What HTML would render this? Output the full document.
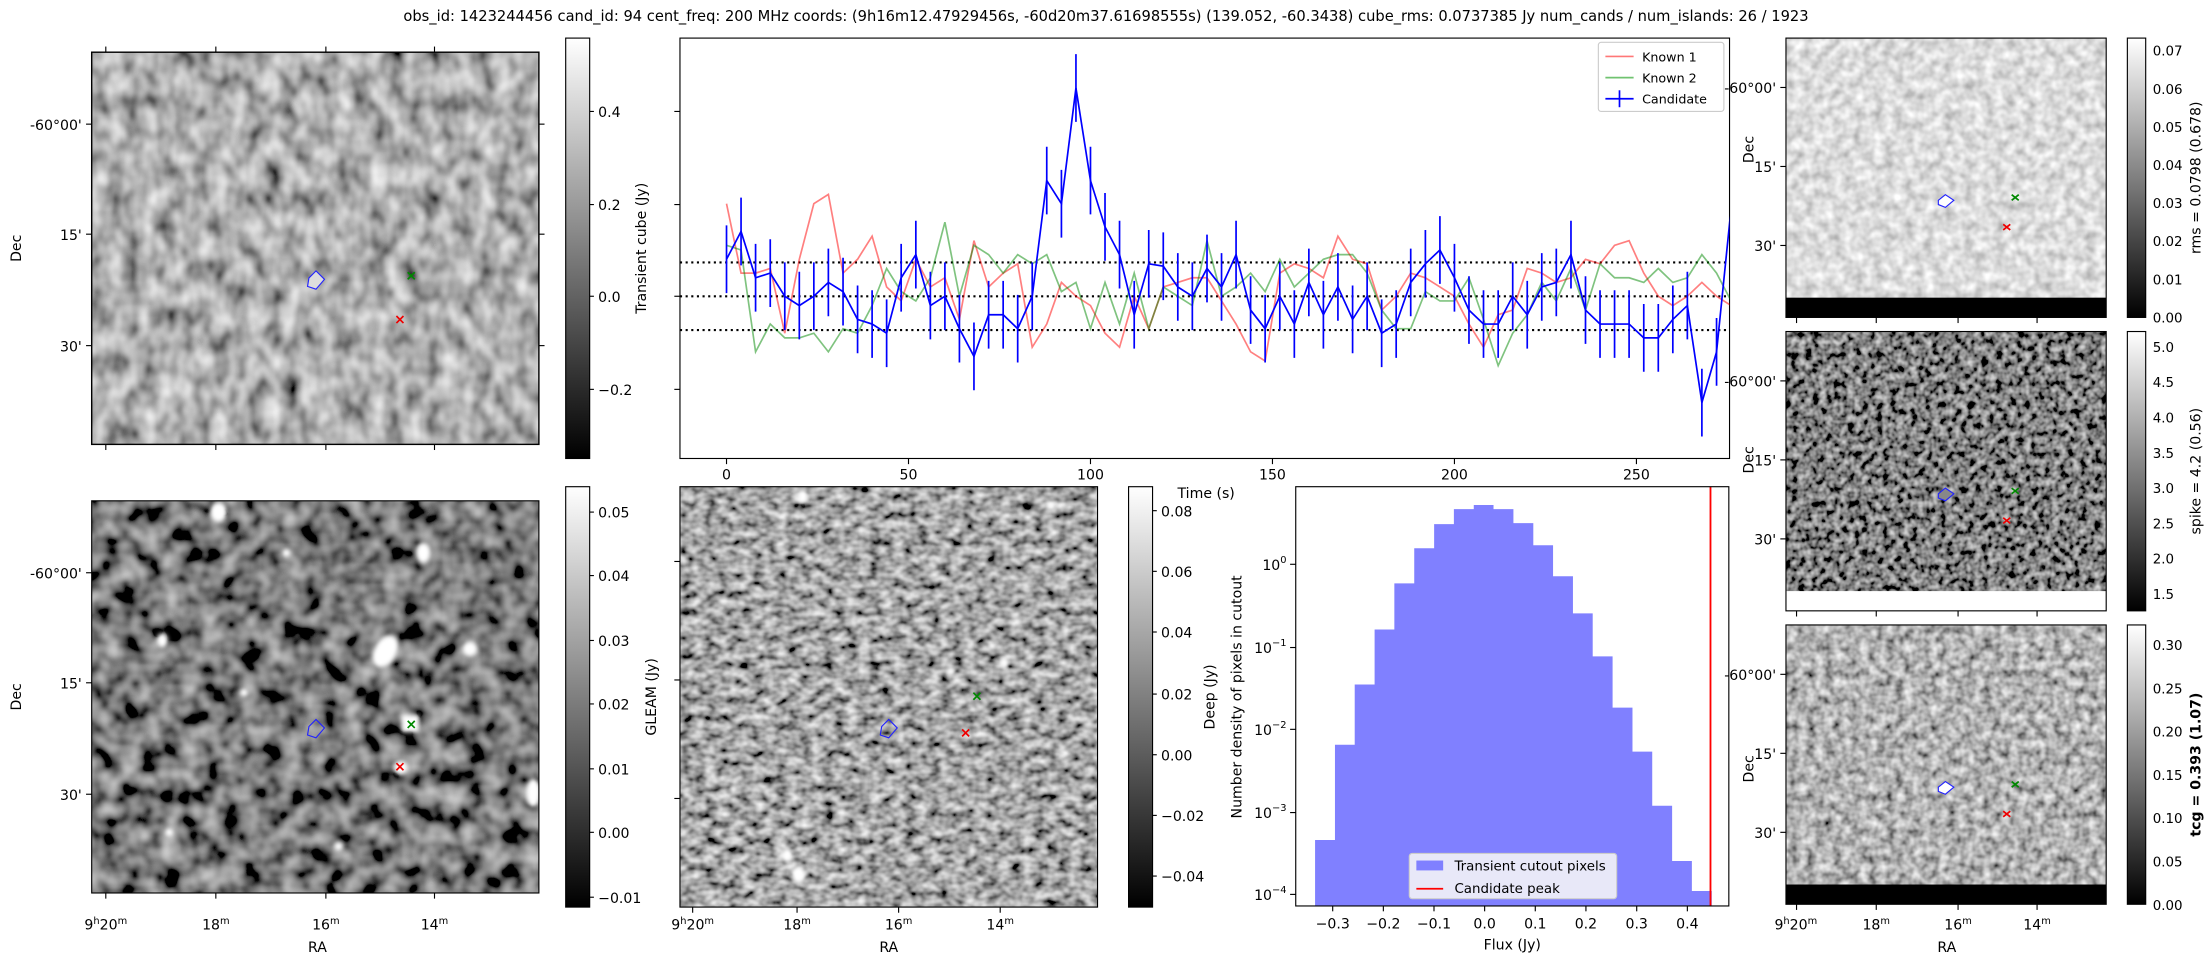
<!DOCTYPE html>
<html><head><meta charset="utf-8"><style>
html,body{margin:0;padding:0;background:#fff;}
svg{display:block;font-family:"DejaVu Sans","Liberation Sans",sans-serif;}
</style></head><body>
<svg width="2212" height="960" viewBox="0 0 1568 680.5" xmlns="http://www.w3.org/2000/svg">
<defs>
<linearGradient id="cb" x1="0" y1="1" x2="0" y2="0"><stop offset="0" stop-color="#000"/><stop offset="1" stop-color="#fff"/></linearGradient>
<filter id="f1" filterUnits="userSpaceOnUse" x="65" y="37" width="317" height="278"><feTurbulence type="fractalNoise" baseFrequency="0.08 0.06" numOctaves="2" seed="3"/><feColorMatrix type="matrix" values="1 0 0 0 0 1 0 0 0 0 1 0 0 0 0 0 0 0 0 1"/><feComponentTransfer><feFuncR type="linear" slope="1.1" intercept="-0.12"/><feFuncG type="linear" slope="1.1" intercept="-0.12"/><feFuncB type="linear" slope="1.1" intercept="-0.12"/></feComponentTransfer></filter>
<filter id="f4" filterUnits="userSpaceOnUse" x="65" y="355" width="317" height="278"><feTurbulence type="fractalNoise" baseFrequency="0.07" numOctaves="2" seed="7"/><feColorMatrix type="matrix" values="1 0 0 0 0 1 0 0 0 0 1 0 0 0 0 0 0 0 0 1"/><feComponentTransfer><feFuncR type="linear" slope="1.0" intercept="-0.3"/><feFuncG type="linear" slope="1.0" intercept="-0.3"/><feFuncB type="linear" slope="1.0" intercept="-0.3"/></feComponentTransfer></filter>
<filter id="f5" filterUnits="userSpaceOnUse" x="482" y="345" width="296" height="298"><feTurbulence type="fractalNoise" baseFrequency="0.12 0.16" numOctaves="2" seed="11"/><feColorMatrix type="matrix" values="1 0 0 0 0 1 0 0 0 0 1 0 0 0 0 0 0 0 0 1"/><feComponentTransfer><feFuncR type="linear" slope="1.3" intercept="-0.27"/><feFuncG type="linear" slope="1.3" intercept="-0.27"/><feFuncB type="linear" slope="1.3" intercept="-0.27"/></feComponentTransfer></filter>
<filter id="r1" filterUnits="userSpaceOnUse" x="1266" y="27" width="227" height="198"><feTurbulence type="fractalNoise" baseFrequency="0.14" numOctaves="2" seed="5"/><feColorMatrix type="matrix" values="1 0 0 0 0 1 0 0 0 0 1 0 0 0 0 0 0 0 0 1"/><feComponentTransfer><feFuncR type="linear" slope="0.8" intercept="0.32"/><feFuncG type="linear" slope="0.8" intercept="0.32"/><feFuncB type="linear" slope="0.8" intercept="0.32"/></feComponentTransfer></filter>
<filter id="r2" filterUnits="userSpaceOnUse" x="1266" y="235" width="227" height="198"><feTurbulence type="fractalNoise" baseFrequency="0.2" numOctaves="2" seed="9"/><feColorMatrix type="matrix" values="1 0 0 0 0 1 0 0 0 0 1 0 0 0 0 0 0 0 0 1"/><feComponentTransfer><feFuncR type="linear" slope="1.2" intercept="-0.38"/><feFuncG type="linear" slope="1.2" intercept="-0.38"/><feFuncB type="linear" slope="1.2" intercept="-0.38"/></feComponentTransfer></filter>
<filter id="r3" filterUnits="userSpaceOnUse" x="1266" y="443" width="227" height="198"><feTurbulence type="fractalNoise" baseFrequency="0.16" numOctaves="2" seed="13"/><feColorMatrix type="matrix" values="1 0 0 0 0 1 0 0 0 0 1 0 0 0 0 0 0 0 0 1"/><feComponentTransfer><feFuncR type="linear" slope="1.2" intercept="-0.15"/><feFuncG type="linear" slope="1.2" intercept="-0.15"/><feFuncB type="linear" slope="1.2" intercept="-0.15"/></feComponentTransfer></filter>
<filter id="bl"><feGaussianBlur stdDeviation="1.5"/></filter>
<clipPath id="c4"><rect x="65" y="355" width="317" height="278"/></clipPath>
<clipPath id="c5"><rect x="482" y="345" width="296" height="298"/></clipPath>
<clipPath id="clc"><rect x="482" y="27" width="744" height="298"/></clipPath>
</defs>

<text x="784" y="15" font-size="10.4" text-anchor="middle">obs_id: 1423244456 cand_id: 94 cent_freq: 200 MHz coords: (9h16m12.47929456s, -60d20m37.61698555s) (139.052, -60.3438) cube_rms: 0.0737385 Jy num_cands / num_islands: 26 / 1923</text>

<!-- P1 -->
<rect x="65" y="37" width="317" height="278" fill="#777" filter="url(#f1)"/>
<rect x="65" y="37" width="317" height="278" fill="none" stroke="#000"/>
<g stroke="#000" stroke-width="0.8"><line x1="75" y1="37" x2="75" y2="33"/><line x1="153" y1="37" x2="153" y2="33"/><line x1="231" y1="37" x2="231" y2="33"/><line x1="308" y1="37" x2="308" y2="33"/>
<line x1="75" y1="315" x2="75" y2="319"/><line x1="153" y1="315" x2="153" y2="319"/><line x1="231" y1="315" x2="231" y2="319"/><line x1="308" y1="315" x2="308" y2="319"/>
<line x1="65" y1="88" x2="61" y2="88"/><line x1="65" y1="166" x2="61" y2="166"/><line x1="65" y1="245" x2="61" y2="245"/>
<line x1="382" y1="88" x2="386" y2="88"/><line x1="382" y1="166" x2="386" y2="166"/><line x1="382" y1="245" x2="386" y2="245"/></g>
<g font-size="10" text-anchor="end"><text x="58" y="92">-60°00'</text><text x="58" y="170">15'</text><text x="58" y="249">30'</text></g>
<text transform="translate(15,176) rotate(-90)" font-size="10" text-anchor="middle">Dec</text>
<path d="M219,197 L224,192 L230,198 L224,205 L218,203 Z" fill="#ddd" stroke="#22f" stroke-width="0.8"/>
<g stroke-width="1.2"><path d="M289,193 l5,5 M294,193 l-5,5" stroke="#080"/><path d="M281,224 l5,5 M286,224 l-5,5" stroke="#e00"/></g>
<rect x="401" y="27" width="17" height="298" fill="url(#cb)" stroke="#000" stroke-width="0.8"/>
<g stroke="#000" stroke-width="0.8"><line x1="418" y1="79" x2="421" y2="79"/><line x1="418" y1="145" x2="421" y2="145"/><line x1="418" y1="210" x2="421" y2="210"/><line x1="418" y1="276" x2="421" y2="276"/></g>
<g font-size="10"><text x="424" y="83">0.4</text><text x="424" y="149">0.2</text><text x="424" y="214">0.0</text><text x="424" y="280">−0.2</text></g>
<text transform="translate(458,176) rotate(-90)" font-size="10" text-anchor="middle">Transient cube (Jy)</text>

<!-- Lightcurve -->
<rect x="482" y="27" width="744" height="298" fill="none" stroke="#000" stroke-width="0.8"/>
<g stroke="#000" stroke-width="1.5" stroke-dasharray="1.5,2.5"><line x1="482" y1="186" x2="1226" y2="186"/><line x1="482" y1="210" x2="1226" y2="210"/><line x1="482" y1="234" x2="1226" y2="234"/></g>
<g id="lc" clip-path="url(#clc)"></g>
<g stroke="#000" stroke-width="0.8"><line x1="482" y1="79" x2="478" y2="79"/><line x1="482" y1="145" x2="478" y2="145"/><line x1="482" y1="210" x2="478" y2="210"/><line x1="482" y1="276" x2="478" y2="276"/>
<line x1="515" y1="325" x2="515" y2="329"/><line x1="644" y1="325" x2="644" y2="329"/><line x1="773" y1="325" x2="773" y2="329"/><line x1="902" y1="325" x2="902" y2="329"/><line x1="1031" y1="325" x2="1031" y2="329"/><line x1="1160" y1="325" x2="1160" y2="329"/></g>
<g font-size="10" text-anchor="middle"><text x="515" y="340">0</text><text x="644" y="340">50</text><text x="773" y="340">100</text><text x="902" y="340">150</text><text x="1031" y="340">200</text><text x="1160" y="340">250</text></g>
<text x="855" y="353" font-size="10" text-anchor="middle">Time (s)</text>
<rect x="1133" y="30" width="89" height="49" fill="#fff" fill-opacity="0.8" stroke="#ccc" stroke-width="0.8" rx="2"/>
<line x1="1138" y1="40" x2="1158" y2="40" stroke="#f55" stroke-opacity="0.8" stroke-width="1.2"/><text x="1164" y="43.5" font-size="9">Known 1</text>
<line x1="1138" y1="55" x2="1158" y2="55" stroke="#3a3" stroke-opacity="0.7" stroke-width="1.2"/><text x="1164" y="58.5" font-size="9">Known 2</text>
<line x1="1138" y1="70" x2="1158" y2="70" stroke="#00f" stroke-width="1.2"/><line x1="1148" y1="64" x2="1148" y2="76" stroke="#00f" stroke-width="1.2"/><text x="1164" y="73.5" font-size="9">Candidate</text>

<!-- P4 -->
<rect x="65" y="355" width="317" height="278" fill="#333" filter="url(#f4)"/>
<g clip-path="url(#c4)" fill="#fff" filter="url(#bl)">
<ellipse cx="155" cy="363" rx="6" ry="7"/><ellipse cx="300" cy="392" rx="5" ry="7"/><ellipse cx="273" cy="462" rx="8" ry="12" transform="rotate(30 273 462)"/>
<ellipse cx="333" cy="460" rx="5" ry="5"/><rect x="285" y="507" width="12" height="12"/><ellipse cx="284" cy="544" rx="5" ry="5"/>
<ellipse cx="115" cy="454" rx="4" ry="5"/><ellipse cx="378" cy="562" rx="5" ry="10"/><ellipse cx="203" cy="392" rx="3" ry="3"/><ellipse cx="173" cy="491" rx="3" ry="3"/><ellipse cx="240" cy="600" rx="3" ry="3"/><ellipse cx="120" cy="590" rx="3" ry="3"/></g>
<rect x="65" y="355" width="317" height="278" fill="none" stroke="#000" stroke-width="0.8"/>
<g stroke="#000" stroke-width="0.8"><line x1="75" y1="633" x2="75" y2="637"/><line x1="153" y1="633" x2="153" y2="637"/><line x1="231" y1="633" x2="231" y2="637"/><line x1="308" y1="633" x2="308" y2="637"/>
<line x1="65" y1="406" x2="61" y2="406"/><line x1="65" y1="484" x2="61" y2="484"/><line x1="65" y1="563" x2="61" y2="563"/></g>
<g font-size="10" text-anchor="end"><text x="58" y="410">-60°00'</text><text x="58" y="488">15'</text><text x="58" y="567">30'</text></g>
<text transform="translate(15,494) rotate(-90)" font-size="10" text-anchor="middle">Dec</text>
<g font-size="10" text-anchor="middle"><text x="75" y="659">9<tspan font-size="7" dy="-4">h</tspan><tspan dy="4">20</tspan><tspan font-size="7" dy="-4">m</tspan></text><text x="153" y="659">18<tspan font-size="7" dy="-4">m</tspan></text><text x="231" y="659">16<tspan font-size="7" dy="-4">m</tspan></text><text x="308" y="659">14<tspan font-size="7" dy="-4">m</tspan></text></g>
<text x="225" y="675" font-size="10" text-anchor="middle">RA</text>
<path d="M219,515 L224,510 L230,516 L224,523 L218,521 Z" fill="none" stroke="#22f" stroke-width="0.8"/>
<g stroke-width="1.2"><path d="M289,511 l5,5 M294,511 l-5,5" stroke="#080"/><path d="M281,541 l5,5 M286,541 l-5,5" stroke="#e00"/></g>
<rect x="401" y="345" width="17" height="298" fill="url(#cb)" stroke="#000" stroke-width="0.8"/>
<g font-size="10"><text x="424" y="367">0.05</text><text x="424" y="412">0.04</text><text x="424" y="458">0.03</text><text x="424" y="503">0.02</text><text x="424" y="549">0.01</text><text x="424" y="594">0.00</text><text x="424" y="640">−0.01</text></g>
<g stroke="#000" stroke-width="0.8"><line x1="418" y1="363" x2="421" y2="363"/><line x1="418" y1="408" x2="421" y2="408"/><line x1="418" y1="454" x2="421" y2="454"/><line x1="418" y1="499" x2="421" y2="499"/><line x1="418" y1="545" x2="421" y2="545"/><line x1="418" y1="590" x2="421" y2="590"/><line x1="418" y1="636" x2="421" y2="636"/></g>
<text transform="translate(465,494) rotate(-90)" font-size="10" text-anchor="middle">GLEAM (Jy)</text>

<!-- P5 -->
<rect x="482" y="345" width="296" height="298" fill="#777" filter="url(#f5)"/>
<g clip-path="url(#c5)" fill="#fff" filter="url(#bl)">
<ellipse cx="569" cy="352" rx="4" ry="5"/><ellipse cx="566" cy="620" rx="5" ry="6"/><ellipse cx="558" cy="606" rx="4" ry="5"/><ellipse cx="712" cy="470" rx="3" ry="4"/><ellipse cx="674" cy="476" rx="3" ry="3"/><ellipse cx="745" cy="358" rx="3" ry="3"/><ellipse cx="520" cy="560" rx="3" ry="3"/></g>
<rect x="482" y="345" width="296" height="298" fill="none" stroke="#000" stroke-width="0.8"/>
<g stroke="#000" stroke-width="0.8"><line x1="491" y1="643" x2="491" y2="647"/><line x1="565" y1="643" x2="565" y2="647"/><line x1="637" y1="643" x2="637" y2="647"/><line x1="709" y1="643" x2="709" y2="647"/>
<line x1="482" y1="398" x2="478" y2="398"/><line x1="482" y1="482" x2="478" y2="482"/><line x1="482" y1="566" x2="478" y2="566"/></g>
<g font-size="10" text-anchor="middle"><text x="491" y="659">9<tspan font-size="7" dy="-4">h</tspan><tspan dy="4">20</tspan><tspan font-size="7" dy="-4">m</tspan></text><text x="565" y="659">18<tspan font-size="7" dy="-4">m</tspan></text><text x="637" y="659">16<tspan font-size="7" dy="-4">m</tspan></text><text x="709" y="659">14<tspan font-size="7" dy="-4">m</tspan></text></g>
<text x="630" y="675" font-size="10" text-anchor="middle">RA</text>
<path d="M625,515 L630,510 L636,516 L630,523 L624,521 Z" fill="none" stroke="#22f" stroke-width="0.8"/>
<g stroke-width="1.2"><path d="M690,491 l5,5 M695,491 l-5,5" stroke="#080"/><path d="M682,517 l5,5 M687,517 l-5,5" stroke="#e00"/></g>
<rect x="800" y="345" width="17" height="298" fill="url(#cb)" stroke="#000" stroke-width="0.8"/>
<g stroke="#000" stroke-width="0.8"><line x1="817" y1="362" x2="820" y2="362"/><line x1="817" y1="405" x2="820" y2="405"/><line x1="817" y1="448" x2="820" y2="448"/><line x1="817" y1="492" x2="820" y2="492"/><line x1="817" y1="535" x2="820" y2="535"/><line x1="817" y1="578" x2="820" y2="578"/><line x1="817" y1="621" x2="820" y2="621"/></g>
<g font-size="10"><text x="823" y="366">0.08</text><text x="823" y="409">0.06</text><text x="823" y="452">0.04</text><text x="823" y="496">0.02</text><text x="823" y="539">0.00</text><text x="823" y="582">−0.02</text><text x="823" y="625">−0.04</text></g>
<text transform="translate(861,494) rotate(-90)" font-size="10" text-anchor="middle">Deep (Jy)</text>

<!-- Histogram -->
<path fill="#8080ff" d="M932.2,642.2 V595.4 H946.3 V527.9 H960.3 V485.2 H974.4 V446.2 H988.4 V413.5 H1002.5 V388.6 H1016.6 V371.5 H1030.6 V360.9 H1044.7 V358 H1058.7 V360.9 H1072.8 V370.8 H1086.9 V386.5 H1100.9 V408.5 H1115 V434.8 H1129 V465.3 H1143.1 V501.6 H1157.2 V532.8 H1171.2 V571.2 H1185.3 V610.3 H1199.3 V631.6 H1213.4 V642.2 Z"/>
<line x1="1212.5" y1="345" x2="1212.5" y2="642.2" stroke="#f00" stroke-width="1.3"/>
<rect x="918.5" y="345" width="307" height="297.2" fill="none" stroke="#000" stroke-width="0.8"/>
<g stroke="#000" stroke-width="0.8"><line x1="918.5" y1="400" x2="914.5" y2="400"/><line x1="918.5" y1="459" x2="914.5" y2="459"/><line x1="918.5" y1="517" x2="914.5" y2="517"/><line x1="918.5" y1="576" x2="914.5" y2="576"/><line x1="918.5" y1="634" x2="914.5" y2="634"/>
<line x1="944.7" y1="642.2" x2="944.7" y2="646"/><line x1="980.6" y1="642.2" x2="980.6" y2="646"/><line x1="1016.5" y1="642.2" x2="1016.5" y2="646"/><line x1="1052.4" y1="642.2" x2="1052.4" y2="646"/><line x1="1088.3" y1="642.2" x2="1088.3" y2="646"/><line x1="1124.2" y1="642.2" x2="1124.2" y2="646"/><line x1="1160.2" y1="642.2" x2="1160.2" y2="646"/><line x1="1196.1" y1="642.2" x2="1196.1" y2="646"/></g>
<g font-size="10" text-anchor="end"><text x="912" y="404">10<tspan font-size="7" dy="-5">0</tspan></text><text x="912" y="463">10<tspan font-size="7" dy="-5">−1</tspan></text><text x="912" y="521">10<tspan font-size="7" dy="-5">−2</tspan></text><text x="912" y="580">10<tspan font-size="7" dy="-5">−3</tspan></text><text x="912" y="638">10<tspan font-size="7" dy="-5">−4</tspan></text></g>
<g font-size="10" text-anchor="middle"><text x="944.7" y="658">−0.3</text><text x="980.6" y="658">−0.2</text><text x="1016.5" y="658">−0.1</text><text x="1052.4" y="658">0.0</text><text x="1088.3" y="658">0.1</text><text x="1124.2" y="658">0.2</text><text x="1160.2" y="658">0.3</text><text x="1196.1" y="658">0.4</text></g>
<text x="1072" y="673" font-size="10" text-anchor="middle">Flux (Jy)</text>
<text transform="translate(880,494) rotate(-90)" font-size="10" text-anchor="middle">Number density of pixels in cutout</text>
<rect x="999" y="605" width="147" height="32" fill="#e8e8f8" stroke="#ccc" stroke-width="0.8" rx="2"/>
<rect x="1004" y="610" width="19" height="7" fill="#8080ff"/><text x="1031" y="617" font-size="9.5">Transient cutout pixels</text>
<line x1="1004" y1="630" x2="1023" y2="630" stroke="#f00" stroke-width="1.3"/><text x="1031" y="633" font-size="9.5">Candidate peak</text>

<!-- Right column -->
<rect x="1266" y="27" width="227" height="198" fill="#bbb" filter="url(#r1)"/>
<rect x="1266" y="211" width="227" height="14" fill="#000"/>
<rect x="1266" y="235" width="227" height="198" fill="#333" filter="url(#r2)"/>
<rect x="1266" y="419" width="227" height="14" fill="#fff"/>
<rect x="1266" y="443" width="227" height="198" fill="#777" filter="url(#r3)"/>
<rect x="1266" y="627" width="227" height="14" fill="#000"/>
<g fill="none" stroke="#000" stroke-width="0.8"><rect x="1266" y="27" width="227" height="198"/><rect x="1266" y="235" width="227" height="198"/><rect x="1266" y="443" width="227" height="198"/></g>
<g stroke="#000" stroke-width="0.8">
<line x1="1266" y1="62" x2="1262" y2="62"/><line x1="1266" y1="118" x2="1262" y2="118"/><line x1="1266" y1="174" x2="1262" y2="174"/>
<line x1="1266" y1="270" x2="1262" y2="270"/><line x1="1266" y1="326" x2="1262" y2="326"/><line x1="1266" y1="382" x2="1262" y2="382"/>
<line x1="1266" y1="478" x2="1262" y2="478"/><line x1="1266" y1="534" x2="1262" y2="534"/><line x1="1266" y1="590" x2="1262" y2="590"/>
<line x1="1273.5" y1="641" x2="1273.5" y2="645"/><line x1="1330" y1="641" x2="1330" y2="645"/><line x1="1388" y1="641" x2="1388" y2="645"/><line x1="1444" y1="641" x2="1444" y2="645"/>
<line x1="1273.5" y1="225" x2="1273.5" y2="229"/><line x1="1330" y1="225" x2="1330" y2="229"/><line x1="1388" y1="225" x2="1388" y2="229"/><line x1="1444" y1="225" x2="1444" y2="229"/>
<line x1="1273.5" y1="433" x2="1273.5" y2="437"/><line x1="1330" y1="433" x2="1330" y2="437"/><line x1="1388" y1="433" x2="1388" y2="437"/><line x1="1444" y1="433" x2="1444" y2="437"/></g>
<g font-size="10" text-anchor="end">
<text x="1259" y="66">-60°00'</text><text x="1259" y="122">15'</text><text x="1259" y="178">30'</text>
<text x="1259" y="274">-60°00'</text><text x="1259" y="330">15'</text><text x="1259" y="386">30'</text>
<text x="1259" y="482">-60°00'</text><text x="1259" y="538">15'</text><text x="1259" y="594">30'</text></g>
<g font-size="10" text-anchor="middle">
<text transform="translate(1243,106) rotate(-90)">Dec</text><text transform="translate(1243,326) rotate(-90)">Dec</text><text transform="translate(1243,545) rotate(-90)">Dec</text>
<text x="1273" y="659">9<tspan font-size="7" dy="-4">h</tspan><tspan dy="4">20</tspan><tspan font-size="7" dy="-4">m</tspan></text><text x="1330" y="659">18<tspan font-size="7" dy="-4">m</tspan></text><text x="1388" y="659">16<tspan font-size="7" dy="-4">m</tspan></text><text x="1444" y="659">14<tspan font-size="7" dy="-4">m</tspan></text>
<text x="1380" y="675">RA</text></g>
<g fill="#fff" stroke="#22f" stroke-width="0.8"><path d="M1374,142 L1379,138 L1385,142 L1379,147 L1374,145 Z"/><path d="M1374,350 L1379,346 L1385,350 L1379,355 L1374,353 Z" fill="#888"/><path d="M1374,558 L1379,554 L1385,558 L1379,563 L1374,561 Z"/></g>
<g stroke-width="1.2"><path d="M1426,138 l5,4 M1431,138 l-5,4" stroke="#080"/><path d="M1420,159 l5,4 M1425,159 l-5,4" stroke="#e00"/>
<path d="M1426,346 l5,4 M1431,346 l-5,4" stroke="#080"/><path d="M1420,367 l5,4 M1425,367 l-5,4" stroke="#e00"/>
<path d="M1426,554 l5,4 M1431,554 l-5,4" stroke="#080"/><path d="M1420,575 l5,4 M1425,575 l-5,4" stroke="#e00"/></g>
<rect x="1508" y="27" width="13" height="198" fill="url(#cb)" stroke="#000" stroke-width="0.8"/>
<rect x="1508" y="235" width="13" height="198" fill="url(#cb)" stroke="#000" stroke-width="0.8"/>
<rect x="1508" y="443" width="13" height="198" fill="url(#cb)" stroke="#000" stroke-width="0.8"/>
<g font-size="9.5">
<text x="1526" y="39.4">0.07</text><text x="1526" y="66.5">0.06</text><text x="1526" y="93.5">0.05</text><text x="1526" y="120.5">0.04</text><text x="1526" y="147.5">0.03</text><text x="1526" y="174.5">0.02</text><text x="1526" y="201.5">0.01</text><text x="1526" y="228.5">0.00</text>
<text x="1526" y="249.4">5.0</text><text x="1526" y="274.5">4.5</text><text x="1526" y="299.5">4.0</text><text x="1526" y="324.5">3.5</text><text x="1526" y="349.5">3.0</text><text x="1526" y="374.5">2.5</text><text x="1526" y="399.5">2.0</text><text x="1526" y="424.5">1.5</text>
<text x="1526" y="460.8">0.30</text><text x="1526" y="491.5">0.25</text><text x="1526" y="522.2">0.20</text><text x="1526" y="552.9">0.15</text><text x="1526" y="583.5">0.10</text><text x="1526" y="614.2">0.05</text><text x="1526" y="644.9">0.00</text></g>
<g font-size="10" text-anchor="middle">
<text transform="translate(1560,126) rotate(-90)">rms = 0.0798 (0.678)</text>
<text transform="translate(1560,334) rotate(-90)">spike = 4.2 (0.56)</text>
<text transform="translate(1560,542) rotate(-90)" font-weight="bold">tcg = 0.393 (1.07)</text></g>

<script>
(function(){
var c=[0.08,0.14,0.04,0.05,0.0,-0.02,0.0,0.03,0.01,-0.05,-0.06,-0.08,0.04,0.09,-0.02,0.0,-0.07,-0.13,-0.04,-0.04,-0.07,0.0,0.25,0.2,0.45,0.25,0.15,0.09,-0.04,0.07,0.065,0.02,0.0,0.06,0.02,0.09,-0.03,-0.07,0.0,-0.06,0.03,-0.04,0.02,-0.05,0.0,-0.08,-0.06,0.03,0.07,0.1,0.04,-0.03,-0.06,-0.06,0.0,-0.04,0.02,0.03,0.09,-0.03,-0.06,-0.06,-0.06,-0.09,-0.09,-0.05,-0.02,-0.23,-0.12,0.19];
var k1=[0.2,0.05,0.05,0.06,-0.08,0.08,0.2,0.22,0.05,0.08,0.13,0.02,-0.01,0.08,0.02,0.04,-0.05,0.12,0.02,0.05,0.07,-0.11,-0.06,0.03,0.0,-0.02,-0.08,-0.11,0.0,-0.07,0.02,0.03,0.04,0.04,-0.01,-0.06,-0.12,-0.14,0.05,0.07,0.06,0.04,0.13,0.08,0.07,-0.03,0.0,0.05,0.04,0.02,0.0,-0.06,-0.11,-0.04,-0.03,0.06,0.05,0.03,0.04,0.08,0.07,0.11,0.12,0.05,0.0,-0.02,0.0,0.03,0.0,-0.02];
var k2=[0.11,0.1,-0.12,-0.06,-0.09,-0.09,-0.08,-0.12,-0.07,-0.08,-0.02,0.06,0.01,-0.01,0.04,0.16,0.0,0.11,0.09,0.05,0.09,0.07,0.09,0.01,0.03,-0.07,0.03,-0.06,0.05,-0.07,0.02,0.0,-0.02,0.12,0.0,0.02,0.05,0.01,0.08,0.02,0.05,0.08,0.09,0.09,0.05,-0.03,-0.07,-0.07,0.01,-0.01,-0.01,0.04,-0.05,-0.15,-0.08,-0.04,0.03,-0.01,0.06,-0.03,0.07,0.04,0.04,0.03,0.06,0.03,0.04,0.09,0.05,-0.01];
function X(i){return 515+i*4*2.58;}function Y(v){return 210-v*328;}
function pts(a){return a.map(function(v,i){return X(i).toFixed(1)+','+Y(v).toFixed(1);}).join(' ');}
var g=document.getElementById('lc'),ns='http://www.w3.org/2000/svg';
function pl(a,col,op,w){var p=document.createElementNS(ns,'polyline');p.setAttribute('points',pts(a));p.setAttribute('fill','none');p.setAttribute('stroke',col);p.setAttribute('stroke-opacity',op);p.setAttribute('stroke-width',w);g.appendChild(p);}
pl(k1,'#f00','0.5',1.2);pl(k2,'#080','0.5',1.2);
var d='';c.forEach(function(v,i){d+='M'+X(i).toFixed(1)+','+(Y(v)-24).toFixed(1)+'V'+(Y(v)+24).toFixed(1);});
var e=document.createElementNS(ns,'path');e.setAttribute('d',d);e.setAttribute('stroke','#00f');e.setAttribute('stroke-width','1.2');g.appendChild(e);
pl(c,'#00f','1',1.2);
})();
</script>
</svg>
</body></html>
